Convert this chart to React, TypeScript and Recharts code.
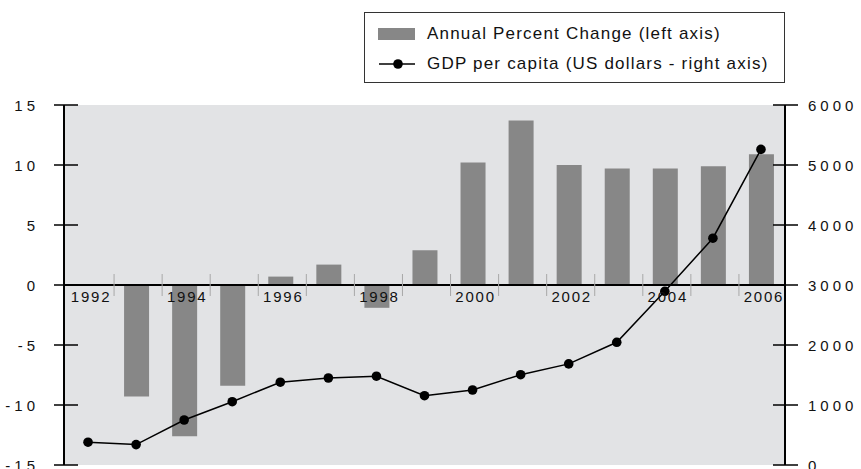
import React from "react";
import {
  ComposedChart,
  Bar,
  Line,
  XAxis,
  YAxis,
  CartesianGrid,
  ReferenceLine,
  Legend,
} from "recharts";

const years = [
  "1992", "1993", "1994", "1995", "1996", "1997", "1998", "1999",
  "2000", "2001", "2002", "2003", "2004", "2005", "2006",
];
const pctChange = [
  null, -9.3, -12.6, -8.4, 0.7, 1.7, -1.9, 2.9, 10.2, 13.7, 10.0, 9.7, 9.7,
  9.9, 10.9,
];
const gdpPerCapita = [
  380, 340, 750, 1055, 1380, 1450, 1480, 1155, 1250, 1505, 1685, 2045, 2895,
  3780, 5260,
];
const leftTicks = [-15, -10, -5, 0, 5, 10, 15];
const rightTicks = [0, 1000, 2000, 3000, 4000, 5000, 6000];

const barName = "Annual Percent Change (left axis)";
const lineName = "GDP per capita (US dollars - right axis)";

const data = years.map((year, i) => ({
  year,
  pct: pctChange[i],
  gdp: gdpPerCapita[i],
}));

const FONT = '"Liberation Sans", Arial, Helvetica, sans-serif';
const PLOT_HALF = 180; // half of plot height, zero line sits in the middle

function LeftTick(props: any) {
  const { x, y, payload } = props;
  return (
    <g>
      <line x1={x - 10} x2={x + 14} y1={y} y2={y} stroke="#000" strokeWidth={1.5} />
      <text
        x={x - 25}
        y={y}
        textAnchor="end"
        dominantBaseline="central"
        fontSize={15}
        letterSpacing={4}
        fill="#111"
        fontFamily={FONT}
      >
        {payload.value}
      </text>
    </g>
  );
}

function RightTick(props: any) {
  const { x, y, payload } = props;
  return (
    <g>
      <line x1={x - 12} x2={x + 13} y1={y} y2={y} stroke="#000" strokeWidth={1.5} />
      <text
        x={x + 23}
        y={y}
        textAnchor="start"
        dominantBaseline="central"
        fontSize={15}
        letterSpacing={4}
        fill="#111"
        fontFamily={FONT}
      >
        {payload.value}
      </text>
    </g>
  );
}

function YearTick(props: any) {
  const { x, y, payload, index, visibleTicksCount } = props;
  const band = 721 / (visibleTicksCount || years.length);
  const y0 = y - PLOT_HALF;
  return (
    <g>
      {index < years.length - 1 && (
        <line
          x1={x + band / 2 + 2}
          x2={x + band / 2 + 2}
          y1={y0 - 11}
          y2={y0 + 11}
          stroke="#a8a8a8"
          strokeWidth={1}
        />
      )}
      {index % 2 === 0 && (
        <text
          x={x + 3}
          y={y0 + 17}
          textAnchor="middle"
          fontSize={15}
          letterSpacing={1.8}
          fill="#111"
          fontFamily={FONT}
        >
          {payload.value}
        </text>
      )}
    </g>
  );
}

function LegendBox(props: any) {
  const items = props.payload || [];
  return (
    <div
      style={{
        border: "1px solid #333",
        width: 421,
        height: 71,
        boxSizing: "border-box",
        background: "#fff",
        fontFamily: FONT,
        fontSize: 17,
        letterSpacing: 1.2,
        color: "#111",
        paddingTop: 6,
      }}
    >
      {items.map((item: any) => (
        <div
          key={item.value}
          style={{ display: "flex", alignItems: "center", height: 30 }}
        >
          <svg width={62} height={30} style={{ flex: "none" }}>
            {item.type === "rect" ? (
              <rect x={13} y={9} width={37} height={12} fill="#878787" />
            ) : (
              <g>
                <line x1={14} x2={50} y1={15} y2={15} stroke="#000" strokeWidth={1.5} />
                <circle cx={33} cy={15} r={4.8} fill="#000" />
              </g>
            )}
          </svg>
          <span>{item.value}</span>
        </div>
      ))}
    </div>
  );
}

export default function App() {
  return (
    <div style={{ position: "absolute", left: 0, top: 0, background: "#fff" }}>
      <ComposedChart
        width={861}
        height={469}
        data={data}
        margin={{ top: 105, right: 0, bottom: 3, left: 0 }}
        barSize={25}
      >
        <CartesianGrid horizontal={false} vertical={false} fill="#e2e3e5" stroke="none" />
        <YAxis
          yAxisId="left"
          orientation="left"
          width={64}
          domain={[-15, 15]}
          ticks={leftTicks}
          interval={0}
          tickSize={0}
          tickMargin={0}
          tickLine={false}
          axisLine={{ stroke: "#000", strokeWidth: 2 }}
          tick={<LeftTick />}
          allowDataOverflow
        />
        <YAxis
          yAxisId="right"
          orientation="right"
          width={76}
          domain={[0, 6000]}
          ticks={rightTicks}
          interval={0}
          tickSize={0}
          tickMargin={0}
          tickLine={false}
          axisLine={{ stroke: "#000", strokeWidth: 2 }}
          tick={<RightTick />}
          allowDataOverflow
        />
        <Bar
          yAxisId="left"
          dataKey="pct"
          name={barName}
          fill="#878787"
          legendType="rect"
          isAnimationActive={false}
        />
        <ReferenceLine yAxisId="left" y={0} stroke="#000" strokeWidth={2} />
        <XAxis
          dataKey="year"
          height={1}
          interval={0}
          tickSize={0}
          tickMargin={0}
          tickLine={false}
          axisLine={false}
          tick={<YearTick />}
        />
        <Line
          yAxisId="right"
          dataKey="gdp"
          name={lineName}
          type="linear"
          stroke="#000"
          strokeWidth={1.5}
          dot={{ r: 4.8, fill: "#000", stroke: "none" }}
          legendType="line"
          isAnimationActive={false}
        />
        <Legend
          layout="horizontal"
          align="center"
          verticalAlign="middle"
          content={<LegendBox />}
          wrapperStyle={{ left: 364, top: 12, width: 421, height: 71 }}
        />
      </ComposedChart>
    </div>
  );
}
